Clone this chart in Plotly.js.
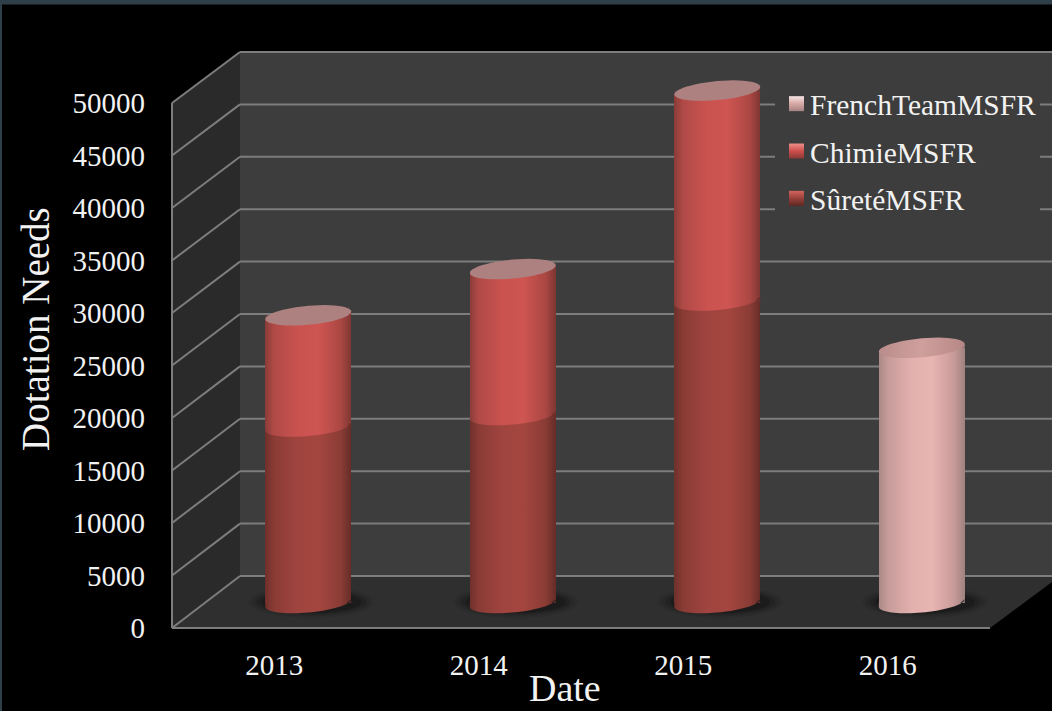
<!DOCTYPE html>
<html>
<head>
<meta charset="utf-8">
<script src="https://cdn.plot.ly/plotly-3.0.1.min.js"></script>
<style>html,body{margin:0;padding:0;background:#000;}#chart{width:1052px;height:711px;}</style>
</head>
<body>
<div id="chart"></div>
<script>
// Yearly dotation needs per programme
const years = [2013, 2014, 2015, 2016];
const sureteMSFR = [16800, 17900, 28800, 0];
const chimieMSFR = [10600, 13900, 20000, 0];
const frenchTeamMSFR = [0, 0, 0, 24300];
const valueTicks = [0, 5000, 10000, 15000, 20000, 25000, 30000, 35000, 40000, 45000, 50000];

const W = 1052, H = 711;
const SERIF = '"Liberation Serif","Times New Roman",serif';
const TEXT = '#f2f2f2', RULE = '#7d7d7d';
const WALL = '#3d3d3d', SIDE = '#2a2a2a', FLOOR = '#2f2f2f';

// Pixel frame of the pseudo-3D box
const FRONT = {x0: 172, x1: 990, base: 628, top: 103};
const BACK = {x0: 240, base: 576, top: 52};
const BARS = {x0: 206, x1: 1024, base: 603, top: 78};
const PX_X = 4 / (FRONT.x1 - FRONT.x0);                // years per pixel
const PX_Y = 50000 / (FRONT.base - FRONT.top);         // value units per pixel
const BAR_FLOOR = -3000;                               // room under zero for the round bar bottoms
const BAR_W = 0.42, RX = BAR_W / 2;
const TILT = 3.8 * PX_Y, RY = 9.5 * PX_Y;

const nx = p => p / W, ny = p => 1 - p / H;
const frontY = v => FRONT.base - (FRONT.base - FRONT.top) * v / 50000;
const backY = v => BACK.base - (BACK.base - BACK.top) * v / 50000;

const shapes = [];
const fills = [];    // [shape index, gradient id]
const poly = (pts, color) => {
  const path = pts.map((p, i) => (i ? 'L' : 'M') + nx(p[0]) + ',' + ny(p[1])).join(' ') + ' Z';
  shapes.push({type: 'path', xref: 'paper', yref: 'paper', path, fillcolor: color, line: {width: 0}, layer: 'below'});
};
const rule = (a, b) => shapes.push({
  type: 'line', xref: 'paper', yref: 'paper', layer: 'below',
  x0: nx(a[0]), y0: ny(a[1]), x1: nx(b[0]), y1: ny(b[1]), line: {color: RULE, width: 2}
});

// Box: back wall, side wall, floor, window frame
poly([[BACK.x0, BACK.top], [W, BACK.top], [W, BACK.base], [BACK.x0, BACK.base]], WALL);
poly([[FRONT.x0, FRONT.top], [BACK.x0, BACK.top], [BACK.x0, BACK.base], [FRONT.x0, FRONT.base]], SIDE);
poly([[FRONT.x0, FRONT.base], [BACK.x0, BACK.base], [W, BACK.base], [W, 582], [FRONT.x1, FRONT.base]], FLOOR);
valueTicks.forEach(v => {
  rule([FRONT.x0, frontY(v)], [BACK.x0, backY(v)]);
  rule([BACK.x0, backY(v)], [W, backY(v)]);
});
rule([FRONT.x0, FRONT.top], [FRONT.x0, FRONT.base]);
rule([FRONT.x0, FRONT.base], [FRONT.x1, FRONT.base]);
poly([[775, 88], [1040, 88], [1040, 222], [775, 222]], WALL);   // legend backing
poly([[0, 0], [W, 0], [W, 4.5], [0, 4.5]], '#2f3f4a');
poly([[0, 0], [2, 0], [2, H], [0, H]], '#2f3f4a');

const dataPath = pts => pts.map((p, i) => (i ? 'L' : 'M') + p[0] + ',' + p[1]).join(' ') + ' Z';
function barShape(pts, color, grad, layer) {
  shapes.push({type: 'path', xref: 'x2', yref: 'y2', path: dataPath(pts), fillcolor: color,
               line: {width: 0}, layer: layer || 'above'});
  if (grad) fills.push([shapes.length - 1, grad]);
}
// Lower rim of a cylinder section: the ellipse is sheared so its left end sits low and its right end high
function rim(cx, cy, grad, color) {
  const arc = [];
  for (let i = 0; i <= 36; i++) {
    const t = Math.PI * i / 36;
    arc.push([cx - RX * Math.cos(t), cy - TILT * Math.cos(t) - RY * Math.sin(t)]);
  }
  barShape([[cx - RX, cy], ...arc, [cx + RX, cy]], color, grad);
}
// Right-hand sliver where the rim climbs above the section's flat edge
function rimCorner(cx, cy, color) {
  barShape([[cx + RX * 0.9, cy], [cx + RX, cy + TILT], [cx + RX, cy]], color);
}
function cap(cx, cy, grad, color) {
  const pts = [];
  for (let i = 0; i < 48; i++) {
    const t = 2 * Math.PI * i / 48;
    pts.push([cx - RX * Math.cos(t), cy - TILT * Math.cos(t) + RY * Math.sin(t)]);
  }
  // left-hand sliver of the flat bar top showing above the cap
  barShape([[cx - RX, cy], [cx - RX, cy - TILT], [cx - RX * 0.9, cy]], WALL);
  barShape(pts, color, grad);
}

const EDGE = {surete: '#6b2e29', chimie: '#8a3c38', french: '#a98987', floor: '#1e1e1e'};
years.forEach((yr, i) => {
  // Contact shadow on the floor
  [[1.46, 1.7, 0.06], [1.38, 1.5, 0.09], [1.28, 1.3, 0.14], [1.16, 1.15, 0.2]].forEach(s => {
    const pts = [];
    for (let k = 0; k < 40; k++) {
      const t = 2 * Math.PI * k / 40;
      pts.push([yr + 3 * PX_X + RX * s[0] * Math.cos(t), RY * s[1] * Math.sin(t) + 1 * PX_Y]);
    }
    shapes.push({type: 'path', xref: 'x2', yref: 'y2', path: dataPath(pts), fillcolor: '#000',
                 opacity: s[2], line: {width: 0}, layer: 'below'});
  });

  const low = sureteMSFR[i], mid = low + chimieMSFR[i], fr = frenchTeamMSFR[i];
  rimCorner(yr, 0, EDGE.floor);
  if (fr > 0) {
    rim(yr, 0, 'gFrench', '#e6b3b1');
    rimCorner(yr, fr, EDGE.french);
    cap(yr, fr, 'gFrenchCap', '#c89795');
  } else {
    rim(yr, 0, 'gSurete', '#a0443f');
    rim(yr, low, 'gChimie', '#cd5450');
    rimCorner(yr, low, EDGE.surete);
    rimCorner(yr, mid, EDGE.chimie);
    cap(yr, mid, null, '#ae8181');
  }
});

const barTrace = (name, values, color, rank) => ({
  type: 'bar', name, x: years, y: values, xaxis: 'x2', yaxis: 'y2', width: BAR_W,
  legendgroup: name, legendrank: rank, marker: {color, line: {width: 0}}, hoverinfo: 'skip'
});
const traces = [
  // carries the visible year and value axes
  {type: 'scatter', mode: 'markers', x: years, y: years.map(() => 0), xaxis: 'x', yaxis: 'y',
   marker: {opacity: 0}, showlegend: false, hoverinfo: 'skip'},
  barTrace('SûretéMSFR', sureteMSFR, '#a0443f', 3),
  barTrace('ChimieMSFR', chimieMSFR, '#cd5450', 2),
  barTrace('FrenchTeamMSFR', frenchTeamMSFR, '#e0b0ae', 1)
];

const layout = {
  width: W, height: H, autosize: false,
  margin: {l: 0, r: 0, t: 0, b: 0},
  paper_bgcolor: '#000', plot_bgcolor: 'rgba(0,0,0,0)',
  barmode: 'stack', shapes, showlegend: true,
  font: {family: SERIF, color: TEXT, size: 29},
  xaxis: {
    domain: [nx(FRONT.x0), nx(FRONT.x1)], range: [2012.5, 2016.5], anchor: 'y',
    tickmode: 'array', tickvals: years, ticktext: years.map(String),
    showgrid: false, zeroline: false, showline: false, ticks: '', ticklabelstandoff: 17,
    tickfont: {family: SERIF, size: 29, color: TEXT}
  },
  yaxis: {
    domain: [ny(FRONT.base), ny(FRONT.top)], range: [0, 50000], anchor: 'x',
    tickmode: 'array', tickvals: valueTicks, ticktext: valueTicks.map(String),
    showgrid: false, zeroline: false, showline: false, ticks: '', ticklabelstandoff: 26,
    tickfont: {family: SERIF, size: 29, color: TEXT}
  },
  xaxis2: {
    domain: [nx(BARS.x0), Math.min(1, nx(BARS.x1))], range: [2012.5, 2016.5], anchor: 'y2',
    visible: false
  },
  yaxis2: {
    domain: [ny(BARS.base - BAR_FLOOR / PX_Y), ny(BARS.top)], range: [BAR_FLOOR, 50000], anchor: 'x2',
    visible: false
  },
  legend: {
    x: nx(770), y: ny(78), xanchor: 'left', yanchor: 'top',
    bgcolor: 'rgba(0,0,0,0)', borderwidth: 0, traceorder: 'grouped', tracegroupgap: 6,
    font: {family: SERIF, size: 29.5, color: TEXT}
  },
  annotations: [
    {text: 'Date', xref: 'paper', yref: 'paper', x: nx(565), y: 0, xanchor: 'center', yanchor: 'bottom', showarrow: false,
     font: {family: SERIF, size: 38, color: TEXT}},
    {text: 'Dotation Needs', xref: 'paper', yref: 'paper', x: nx(35), y: ny(329), xanchor: 'center', yanchor: 'middle', textangle: -90, showarrow: false,
     font: {family: SERIF, size: 39, color: TEXT}}
  ]
};

// Horizontal cylinder shading and bevelled legend keys
const GRADS = {
  gSurete: ['h', [[0, '#6f302b'], [.1, '#8a3b35'], [.38, '#a0443f'], [.62, '#a4463f'], [.88, '#8a3c35'], [1, '#672c28']]],
  gChimie: ['h', [[0, '#8a3c38'], [.1, '#b04a47'], [.38, '#ca524f'], [.62, '#ce5551'], [.88, '#ab4743'], [1, '#7e3632']]],
  gFrench: ['h', [[0, '#a98987'], [.1, '#c59b99'], [.38, '#e2b0ae'], [.62, '#e8b5b3'], [.88, '#c69a98'], [1, '#a08280']]],
  gFrenchCap: ['h', [[0, '#b98d8b'], [.5, '#cf9f9d'], [1, '#b58886']]],
  kFrench: ['v', [[0, '#f5e4e3'], [.5, '#d6a8a6'], [1, '#a58381']]],
  kChimie: ['v', [[0, '#ef8f8b'], [.5, '#cd4f4b'], [1, '#8a3835']]],
  kSurete: ['v', [[0, '#d4645e'], [.5, '#98403a'], [1, '#5f2723']]]
};
const SVGNS = 'http://www.w3.org/2000/svg';

Plotly.newPlot('chart', traces, layout, {displayModeBar: false, staticPlot: true}).then(gd => {
  const svg = gd.querySelector('svg.main-svg');
  const defs = document.createElementNS(SVGNS, 'defs');
  Object.keys(GRADS).forEach(id => {
    const g = document.createElementNS(SVGNS, 'linearGradient');
    g.setAttribute('id', id);
    g.setAttribute('x1', 0); g.setAttribute('y1', 0);
    g.setAttribute('x2', GRADS[id][0] === 'h' ? 1 : 0);
    g.setAttribute('y2', GRADS[id][0] === 'h' ? 0 : 1);
    GRADS[id][1].forEach(s => {
      const st = document.createElementNS(SVGNS, 'stop');
      st.setAttribute('offset', s[0]);
      st.setAttribute('stop-color', s[1]);
      g.appendChild(st);
    });
    defs.appendChild(g);
  });
  svg.insertBefore(defs, svg.firstChild);

  const barFills = ['gSurete', 'gChimie', 'gFrench'];
  gd.querySelectorAll('.barlayer .trace.bars').forEach((tr, i) => {
    tr.querySelectorAll('.point path').forEach(p => { p.style.fill = 'url(#' + barFills[i] + ')'; });
  });
  fills.forEach(([idx, id]) => {
    gd.querySelectorAll('.shapelayer path[data-index="' + idx + '"]').forEach(p => { p.style.fill = 'url(#' + id + ')'; });
  });
  const keyFill = {'FrenchTeamMSFR': 'kFrench', 'ChimieMSFR': 'kChimie', 'SûretéMSFR': 'kSurete'};
  gd.querySelectorAll('.legend .traces').forEach(tr => {
    const label = tr.querySelector('.legendtext').textContent;
    tr.querySelectorAll('.legendpoints path').forEach(p => {
      p.style.fill = 'url(#' + keyFill[label] + ')';
      p.style.stroke = 'none';
      p.setAttribute('transform', 'translate(26.5,0) scale(1.25)');
    });
  });
});
</script>
</body>
</html>
